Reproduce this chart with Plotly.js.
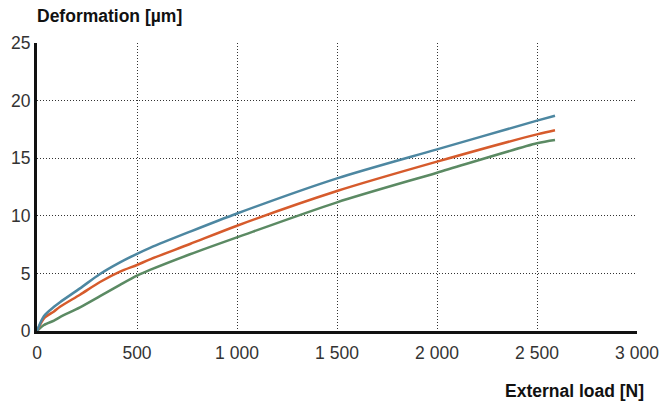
<!DOCTYPE html>
<html>
<head>
<meta charset="utf-8">
<script src="https://cdn.plot.ly/plotly-3.0.1.min.js"></script>
<style>html,body{margin:0;padding:0;background:#fff;}#chart{width:661px;height:405px;}</style>
</head>
<body>
<div id="chart"></div>
<script>
const loadN = [0, 35, 85, 115, 215, 315, 415, 500, 565, 765, 1000, 1500, 2000, 2500, 2590];
const seriesBlue = [0, 1.3, 2.1, 2.5, 3.7, 4.95, 5.96, 6.7, 7.22, 8.62, 10.2, 13.25, 15.77, 18.26, 18.69];
const seriesOrange = [0, 1.1, 1.7, 2.1, 3.15, 4.25, 5.15, 5.73, 6.22, 7.55, 9.14, 12.15, 14.7, 17.07, 17.42];
const seriesGreen = [0, 0.52, 0.9, 1.2, 2.05, 3.02, 4.0, 4.8, 5.3, 6.66, 8.13, 11.17, 13.74, 16.29, 16.58];
const xTicks = [0, 500, 1000, 1500, 2000, 2500, 3000];
const yTicks = [0, 5, 10, 15, 20, 25];

const mk = (y, color) => ({
  x: loadN, y: y, type: 'scatter', mode: 'lines',
  line: {color: color, width: 2.5, shape: 'spline', smoothing: 0.8},
  hoverinfo: 'skip', showlegend: false
});

const data = [
  mk(seriesGreen, '#5b8a63'),
  mk(seriesOrange, '#d65b2c'),
  mk(seriesBlue, '#4d87a1')
];

const fontFam = '"Liberation Sans", Arial, Helvetica, sans-serif';
const tickFont = {family: fontFam, size: 17.5, color: '#333'};
const layout = {
  width: 661, height: 405,
  margin: {l: 37, r: 24, t: 43, b: 74},
  paper_bgcolor: '#fff', plot_bgcolor: '#fff',
  separators: '. ',
  font: {family: fontFam, size: 17.5, color: '#333'},
  xaxis: {
    range: [0, 3000], tickvals: xTicks, separatethousands: true,
    showgrid: true, gridcolor: '#333', griddash: '1px,2px', gridwidth: 1,
    showline: true, linecolor: '#111', linewidth: 3, zeroline: false,
    ticks: '', ticklen: 0, fixedrange: true, ticklabelstandoff: 4,
    tickfont: tickFont
  },
  yaxis: {
    range: [0, 25], tickvals: yTicks,
    showgrid: true, gridcolor: '#333', griddash: '1px,2px', gridwidth: 1,
    showline: true, linecolor: '#111', linewidth: 3, zeroline: false,
    ticks: '', ticklen: 0, fixedrange: true,
    tickfont: tickFont
  },
  annotations: [
    {text: '<b>Deformation [µm]</b>', xref: 'paper', yref: 'paper', x: 0, y: 1,
     xanchor: 'left', yanchor: 'bottom', xshift: -2, yshift: 15, showarrow: false,
     font: {family: fontFam, size: 17.5, color: '#111'}},
    {text: '<b>External load [N]</b>', xref: 'paper', yref: 'paper', x: 1, y: 0,
     xanchor: 'right', yanchor: 'top', xshift: 9, yshift: -48, showarrow: false,
     font: {family: fontFam, size: 17.5, color: '#111'}}
  ]
};

Plotly.newPlot('chart', data, layout, {displayModeBar: false, staticPlot: true});
</script>
</body>
</html>
